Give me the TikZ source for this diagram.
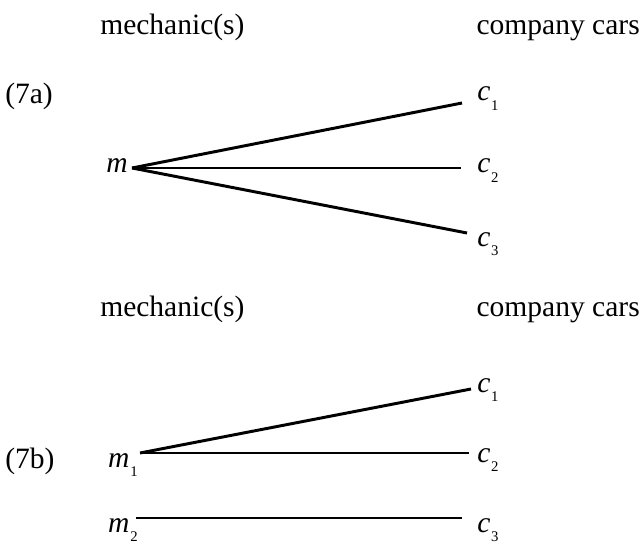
\documentclass[tikz,border=0pt]{standalone}
\usepackage{fontspec}
\setmainfont{Liberation Serif}
\usepackage{tikz}

% italic letter with a small lowered index
\newcommand{\sublab}[2]{\textit{#1}\kern0.6pt\raisebox{-6.5pt}{\fontsize{10.5}{11}\selectfont #2}}

\begin{document}
\begin{tikzpicture}[scale=1.0, every node/.style={font=\fontsize{21}{25}\selectfont, inner sep=0pt},
	link/.style={line width=2.1pt}]
	\useasboundingbox (0,0) rectangle (16.025,13.675);

	% Kopfzeile (7a)
	\node[anchor=base west] (head-m-a) at (2.5,12.8) {mechanic(s)};
	\node[anchor=base east] (head-c-a) at (16.0,12.8) {company cars};
	\node[anchor=base west] (tag-a) at (0.125,11.075) {(7a)};

	% ein Mechaniker, drei Wagen
	\node[anchor=base east] (m-a) at (3.2,9.35) {\textit{m}};
	\node[anchor=base west] (c1-a) at (11.925,11.15) {\sublab{c}{1}};
	\node[anchor=base west] (c2-a) at (11.925,9.35) {\sublab{c}{2}};
	\node[anchor=base west] (c3-a) at (11.925,7.525) {\sublab{c}{3}};
	\coordinate (pm-a) at (3.3,9.475);
	\coordinate (pc1-a) at (11.55,11.1);
	\coordinate (pc2-a) at (11.525,9.475);
	\coordinate (pc3-a) at (11.675,7.85);
	\draw[link] (pm-a) -- (pc1-a);
	\draw[link] (pm-a) -- (pc2-a);
	\draw[link] (pm-a) -- (pc3-a);

	% Kopfzeile (7b)
	\node[anchor=base west] (head-m-b) at (2.5,5.775) {mechanic(s)};
	\node[anchor=base east] (head-c-b) at (16.0,5.775) {company cars};
	\node[anchor=base west] (tag-b) at (0.125,1.975) {(7b)};

	% zwei Mechaniker, drei Wagen
	\node[anchor=base east] (m1-b) at (3.45,2.0) {\sublab{m}{1}};
	\node[anchor=base east] (m2-b) at (3.45,0.36) {\sublab{m}{2}};
	\node[anchor=base west] (c1-b) at (11.925,3.875) {\sublab{c}{1}};
	\node[anchor=base west] (c2-b) at (11.925,2.125) {\sublab{c}{2}};
	\node[anchor=base west] (c3-b) at (11.925,0.36) {\sublab{c}{3}};
	\coordinate (pm1-b) at (3.5,2.35);
	\coordinate (pm2-b) at (3.4,0.725);
	\coordinate (pc1-b) at (11.775,3.95);
	\coordinate (pc2-b) at (11.725,2.35);
	\coordinate (pc3-b) at (11.55,0.725);
	\draw[link] (pm1-b) -- (pc1-b);
	\draw[link] (pm1-b) -- (pc2-b);
	\draw[link] (pm2-b) -- (pc3-b);
\end{tikzpicture}
\end{document}
